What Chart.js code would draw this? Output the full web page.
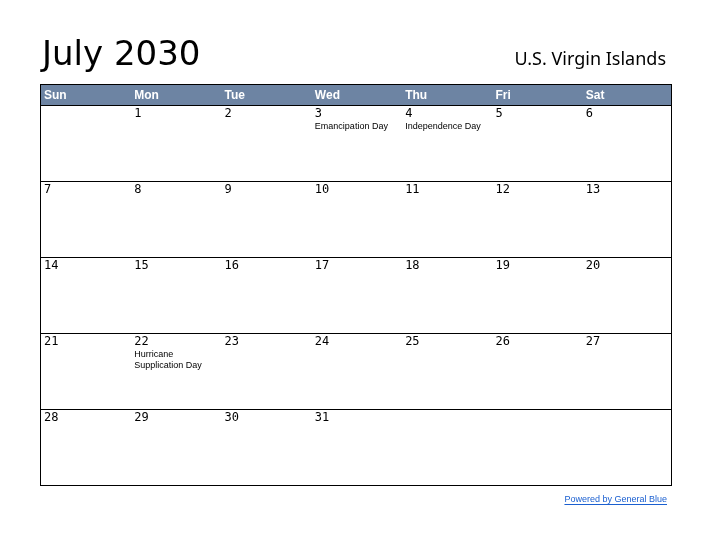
<!DOCTYPE html>
<html><head><meta charset="utf-8">
<script src="https://cdn.jsdelivr.net/npm/chart.js@4/dist/chart.umd.min.js"></script>
<style>html,body{margin:0;background:#fff}#wrap{width:712px;height:550px;position:relative}</style>
</head><body><div id="wrap"><canvas id="cal"></canvas></div>
<script>
var title = "July 2030";
var region = "U.S. Virgin Islands";
var weekdays = ["Sun", "Mon", "Tue", "Wed", "Thu", "Fri", "Sat"];
var days = [];
for (var d = 1; d <= 31; d++) days.push(d);
var firstWeekday = 1; // July 1 2030 is a Monday
var holidayDays = [3, 4, 22];
var holidayNames = [["Emancipation Day"], ["Independence Day"], ["Hurricane", "Supplication Day"]];

// day cells as points, x = column, y = row (centre of cell)
var cells = days.map(function(d) {
    var i = d - 1 + firstWeekday;
    return { x: i % 7, y: Math.floor(i / 7), day: d };
});

var calendarPlugin = {
    id: "calendar",
    afterDraw: function(chart) {
        var c = chart.ctx, xs = chart.scales.x, ys = chart.scales.y;
        var left = xs.getPixelForValue(-0.5), right = xs.getPixelForValue(6.5);
        var top = ys.getPixelForValue(-0.5), bottom = ys.getPixelForValue(4.5);
        c.save();
        c.fillStyle = "#000";
        c.font = "34px 'DejaVu Sans'";
        c.textBaseline = "alphabetic";
        c.textAlign = "left";
        c.fillText(title, 42, 65);
        c.font = "18px 'Noto Sans'";
        c.textAlign = "right";
        c.fillText(region, 666, 65);
        // header
        c.fillStyle = "#6d84a3";
        c.fillRect(left, 84, right - left, top - 84);
        c.fillStyle = "#fff";
        c.font = "bold 12px 'Liberation Sans'";
        c.textAlign = "left";
        weekdays.forEach(function(w, i) {
            c.fillText(w, xs.getPixelForValue(i - 0.5) + 4, 99);
        });
        // grid
        c.strokeStyle = "#000";
        c.lineWidth = 1;
        c.strokeRect(left + 0.5, 84.5, right - left - 1, bottom - 84);
        for (var r = 0; r <= 4; r++) {
            var yy = Math.round(ys.getPixelForValue(r - 0.5)) + 0.5;
            c.beginPath(); c.moveTo(left, yy); c.lineTo(right, yy); c.stroke();
        }
        // days
        chart.data.datasets[0].data.forEach(function(p) {
            var x0 = xs.getPixelForValue(p.x - 0.5) + 4;
            var y0 = ys.getPixelForValue(p.y - 0.5);
            c.fillStyle = "#000";
            c.font = "12px 'DejaVu Sans Mono'";
            c.textAlign = "left";
            c.fillText(String(p.day), x0, y0 + 12);
            var h = holidayDays.indexOf(p.day);
            if (h >= 0) {
                c.font = "9px 'Liberation Sans'";
                holidayNames[h].forEach(function(line, k) {
                    c.fillText(line, x0, y0 + 24 + k * 11);
                });
            }
        });
        // footer
        c.fillStyle = "#1a5fd0";
        c.font = "9px 'Liberation Sans'";
        c.textAlign = "right";
        var ft = "Powered by General Blue";
        c.fillText(ft, 667, 502);
        var w = c.measureText(ft).width;
        c.fillRect(667 - w, 504, w, 1);
        c.restore();
    }
};

new Chart(document.getElementById("cal"), {
    type: "scatter",
    data: { datasets: [{ data: cells, pointRadius: 0, pointHoverRadius: 0 }] },
    options: {
        responsive: true,
        maintainAspectRatio: false,
        animation: false,
        events: [],
        layout: { padding: { left: 40, right: 40, top: 105, bottom: 65 } },
        plugins: { legend: { display: false }, tooltip: { enabled: false } },
        scales: {
            x: { type: "linear", min: -0.5, max: 6.5, display: false },
            y: { type: "linear", min: -0.5, max: 4.5, reverse: true, display: false }
        }
    },
    plugins: [calendarPlugin]
});
</script></body></html>
